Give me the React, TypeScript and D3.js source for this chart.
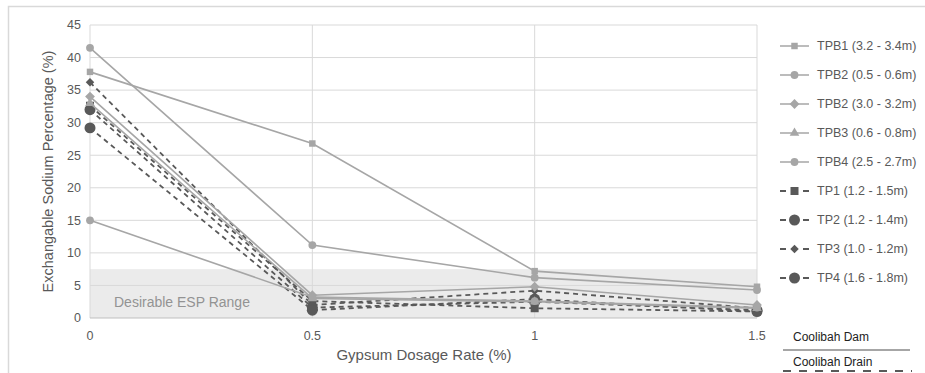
import React, { useEffect, useRef } from "react";
import * as d3 from "d3";

const doses = [0, 0.5, 1, 1.5];
const seriesNames = [
  "TPB1 (3.2 - 3.4m)",
  "TPB2 (0.5 - 0.6m)",
  "TPB2 (3.0 - 3.2m)",
  "TPB3 (0.6 - 0.8m)",
  "TPB4 (2.5 - 2.7m)",
  "TP1 (1.2 - 1.5m)",
  "TP2 (1.2 - 1.4m)",
  "TP3 (1.0 - 1.2m)",
  "TP4 (1.6 - 1.8m)",
];
const tpb1 = [37.8, 26.8, 7.2, 4.8];
const tpb2a = [41.5, 11.2, 6.2, 4.3];
const tpb2b = [34.0, 3.5, 4.8, 2.0];
const tpb3 = [33.0, 3.0, 2.5, 1.5];
const tpb4 = [15.0, 3.2, 2.6, 1.6];
const tp1 = [32.6, 2.6, 1.5, 1.0];
const tp2 = [32.0, 1.6, 2.5, 1.2];
const tp3 = [36.2, 2.0, 4.2, 1.5];
const tp4 = [29.2, 1.2, 2.9, 1.0];
const seriesValues = [tpb1, tpb2a, tpb2b, tpb3, tpb4, tp1, tp2, tp3, tp4];
const markerKinds = ["square", "circle", "diamond", "triangle", "circle", "square", "circle", "diamond", "circle"];
const isDrain = [false, false, false, false, false, true, true, true, true];
const yTicks = [0, 5, 10, 15, 20, 25, 30, 35, 40, 45];
const xTicks = [0, 0.5, 1, 1.5];
const desirableMax = 7.5;

const FONT = "Arimo, 'Liberation Sans', Arial, sans-serif";
const LIGHT = "#a6a6a6";
const DARK = "#595959";

// rotated square
const diamondSymbol = {
  draw(context: any, size: number) {
    const r = Math.sqrt(size / 2);
    context.moveTo(0, -r);
    context.lineTo(r, 0);
    context.lineTo(0, r);
    context.lineTo(-r, 0);
    context.closePath();
  },
};

const App = () => {
  const ref = useRef<SVGSVGElement>(null);

  useEffect(() => {
    const svg = d3.select(ref.current);
    svg.selectAll("*").remove();

    const width = 925;
    const height = 373;
    svg.attr("width", width).attr("height", height);

    // outer frame
    svg.append("rect").attr("x", 8.5).attr("y", 6.5).attr("width", 1000).attr("height", 500)
      .attr("fill", "#fff").attr("stroke", "#d9d9d9").attr("stroke-width", 1.5);

    const x = d3.scaleLinear().domain([0, 1.5]).range([90, 757]);
    const y = d3.scaleLinear().domain([0, 45]).range([318, 25]);

    // desirable band
    svg.append("rect")
      .attr("x", x(0)).attr("y", y(desirableMax))
      .attr("width", x(1.5) - x(0)).attr("height", y(0) - y(desirableMax))
      .attr("fill", "#ebebeb");

    // grid
    svg.selectAll(".hg").data(yTicks.filter((d) => d > 0)).enter().append("line")
      .attr("x1", x(0)).attr("x2", x(1.5))
      .attr("y1", (d) => y(d)).attr("y2", (d) => y(d))
      .attr("stroke", "#d9d9d9").attr("stroke-width", 1);
    svg.selectAll(".vg").data(xTicks.filter((d) => d > 0)).enter().append("line")
      .attr("x1", (d) => x(d)).attr("x2", (d) => x(d))
      .attr("y1", y(0)).attr("y2", y(45))
      .attr("stroke", "#d9d9d9").attr("stroke-width", 1);
    svg.append("line").attr("x1", x(0)).attr("x2", x(0)).attr("y1", y(0)).attr("y2", y(45))
      .attr("stroke", "#d9d9d9");
    svg.append("line").attr("x1", x(0)).attr("x2", x(1.5)).attr("y1", y(0)).attr("y2", y(0))
      .attr("stroke", "#bfbfbf");

    svg.append("text").attr("x", 114).attr("y", y(0) - 11)
      .text("Desirable ESP Range")
      .style("font-family", FONT).style("font-size", "14px").style("fill", "#939393");

    // tick labels
    svg.selectAll(".yt").data(yTicks).enter().append("text")
      .attr("x", 81).attr("y", (d) => y(d)).attr("dy", "0.35em")
      .attr("text-anchor", "end").text((d) => d)
      .style("font-family", FONT).style("font-size", "12.5px").style("fill", DARK);
    svg.selectAll(".xt").data(xTicks).enter().append("text")
      .attr("x", (d) => x(d)).attr("y", 336).attr("dy", "0.35em")
      .attr("text-anchor", "middle").text((d) => d)
      .style("font-family", FONT).style("font-size", "12.5px").style("fill", DARK);

    svg.append("text").attr("transform", `translate(48,${(y(0) + y(45)) / 2}) rotate(-90)`)
      .attr("text-anchor", "middle").attr("dy", "0.35em")
      .text("Exchangable Sodium Percentage (%)")
      .style("font-family", FONT).style("font-size", "14.5px").style("fill", DARK);
    svg.append("text").attr("x", 424).attr("y", 355).attr("dy", "0.35em")
      .attr("text-anchor", "middle").text("Gypsum Dosage Rate (%)")
      .style("font-family", FONT).style("font-size", "15px").style("fill", DARK);

    const symbolOf = (kind: string, drain: boolean) => {
      if (kind === "square") return d3.symbol(d3.symbolSquare, drain ? 64 : 42);
      if (kind === "diamond") return d3.symbol(diamondSymbol as any, drain ? 36 : 48);
      if (kind === "triangle") return d3.symbol(d3.symbolTriangle, 40);
      return d3.symbol(d3.symbolCircle, drain ? 95 : 48);
    };

    const line = d3.line<number>().x((_, i) => x(doses[i])).y((d) => y(d));

    // drain first, dam on top
    const order = [5, 6, 7, 8, 0, 1, 2, 3, 4];
    order.forEach((si) => {
      const vals = seriesValues[si];
      const drain = isDrain[si];
      const color = drain ? DARK : LIGHT;
      svg.append("path").datum(vals).attr("d", line)
        .attr("fill", "none").attr("stroke", color).attr("stroke-width", drain ? 1.8 : 1.6)
        .attr("stroke-dasharray", drain ? "5,4" : null);
      const sym = symbolOf(markerKinds[si], drain);
      svg.selectAll(`.m${si}`).data(vals).enter().append("path")
        .attr("transform", (d, i) => `translate(${x(doses[i])},${y(d)})`)
        .attr("d", sym as any).attr("fill", color);
    });

    // legend
    const ly = d3.scaleLinear().domain([0, 8]).range([46, 278]);
    seriesNames.forEach((name, si) => {
      const drain = isDrain[si];
      const color = drain ? DARK : LIGHT;
      const yy = ly(si);
      if (drain) {
        svg.append("line").attr("x1", 780).attr("x2", 786).attr("y1", yy).attr("y2", yy)
          .attr("stroke", color).attr("stroke-width", 2);
        svg.append("line").attr("x1", 803).attr("x2", 809).attr("y1", yy).attr("y2", yy)
          .attr("stroke", color).attr("stroke-width", 2);
      } else {
        svg.append("line").attr("x1", 780).attr("x2", 809).attr("y1", yy).attr("y2", yy)
          .attr("stroke", color).attr("stroke-width", 1.5);
      }
      svg.append("path").attr("transform", `translate(794.5,${yy})`)
        .attr("d", symbolOf(markerKinds[si], drain) as any).attr("fill", color);
      svg.append("text").attr("x", 817).attr("y", yy).attr("dy", "0.35em").text(name)
        .style("font-family", FONT).style("font-size", "12.5px").style("fill", DARK);
    });

    svg.append("text").attr("x", 793).attr("y", 337).attr("dy", "0.35em").text("Coolibah Dam")
      .style("font-family", FONT).style("font-size", "12px").style("fill", "#222");
    svg.append("line").attr("x1", 783).attr("x2", 910).attr("y1", 350).attr("y2", 350)
      .attr("stroke", LIGHT).attr("stroke-width", 2);
    svg.append("text").attr("x", 793).attr("y", 362).attr("dy", "0.35em").text("Coolibah Drain")
      .style("font-family", FONT).style("font-size", "12px").style("fill", "#222");
    svg.append("line").attr("x1", 783).attr("x2", 912).attr("y1", 371).attr("y2", 371)
      .attr("stroke", DARK).attr("stroke-width", 2).attr("stroke-dasharray", "8,8");
  }, []);

  return <svg ref={ref} style={{ position: "absolute", left: 0, top: 0 }}></svg>;
};

export default App;
